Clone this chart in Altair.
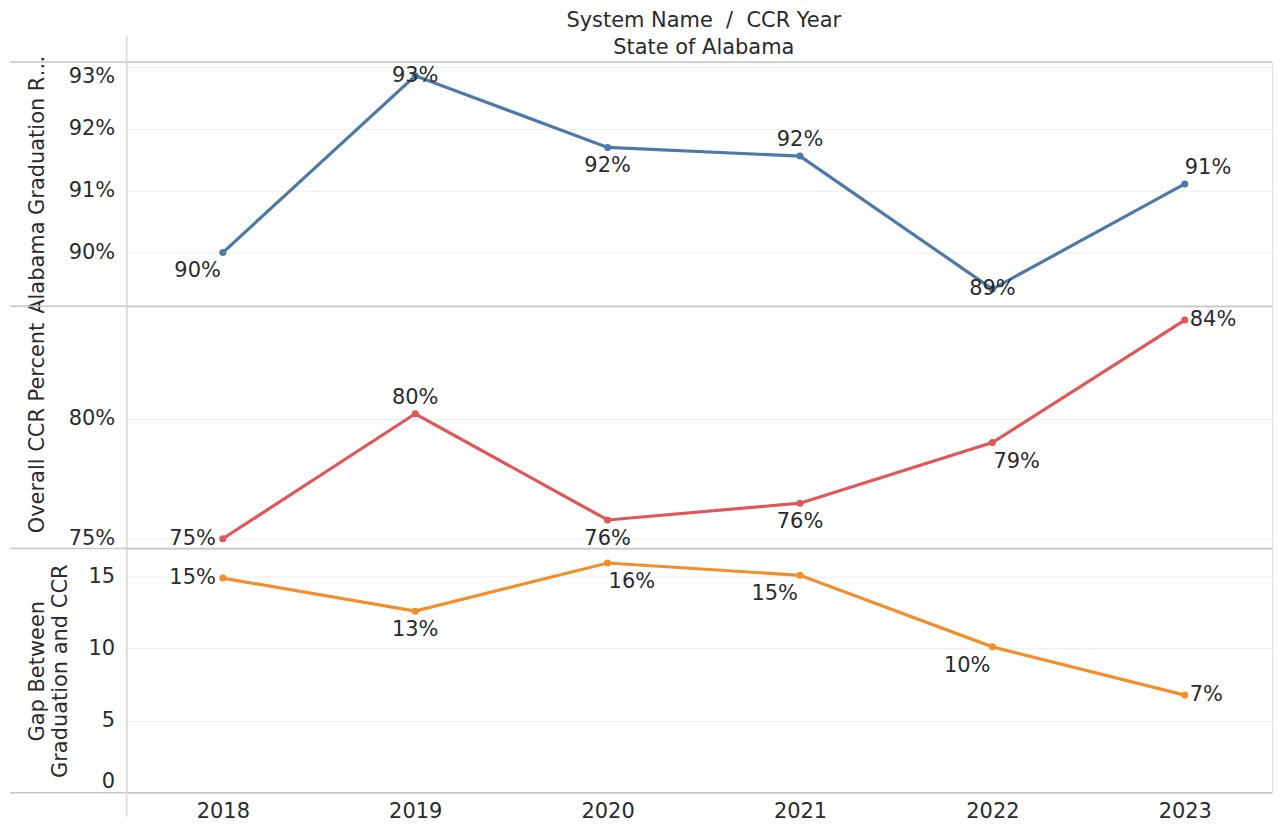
import altair as alt
import pandas as pd

# ---------------- data ----------------
YEARS = ["2018", "2019", "2020", "2021", "2022", "2023"]
GRAD_RATE = [90.0, 92.86, 91.70, 91.56, 89.41, 91.11]      # Alabama Graduation Rate (%)
CCR_PERCENT = [75.0, 80.2, 75.78, 76.48, 79.0, 84.1]       # Overall CCR Percent (%)
GAP = [14.86, 12.57, 15.9, 15.05, 10.1, 6.76]              # Gap Between Graduation and CCR

HEADER_FIELDS = "System Name\u00a0 /\u00a0 CCR Year"
HEADER_VALUE = "State of Alabama"

GRAD_TITLE = "Alabama Graduation Rate"
CCR_TITLE = "Overall CCR Percent"
GAP_TITLE = ["Gap Between", "Graduation and CCR"]

GRAD_TICKS = [90, 91, 92, 93]
CCR_TICKS = [75, 80]
GAP_TICKS = [0, 5, 10, 15]

# ---------------- style ----------------
FONT = "DejaVu Sans"
FS = 21
TEXT = "#2b2b2b"
BLUE, RED, ORANGE = "#4e79a7", "#e15759", "#f28e2b"
SEP = "#c6c6c6"
VSEP = "#d9d9d9"
GRID = "#eeeeee"
W = 1149
H1, H2, H3 = 245, 243, 245
LEFT = 117
X_PADDING, X_ALIGN = 0.4767, 0.5245   # pane is clipped on the right in the original

PLACEMENTS = {
    "a": dict(align="center", baseline="bottom", dx=0, dy=-6),
    "b": dict(align="center", baseline="top", dx=0, dy=8),
    "bl": dict(align="right", baseline="top", dx=-2, dy=8),
    "br": dict(align="left", baseline="top", dx=1, dy=8),
    "ar": dict(align="left", baseline="bottom", dx=0, dy=-6),
    "l": dict(align="right", baseline="middle", dx=-7, dy=0),
    "r": dict(align="left", baseline="middle", dx=5, dy=0),
    "c": dict(align="center", baseline="middle", dx=0, dy=0),
}
GRAD_LABELS = {"2018": "bl", "2019": "c", "2020": "b", "2021": "a", "2022": "c", "2023": "ar"}
CCR_LABELS = {"2018": "l", "2019": "a", "2020": "b", "2021": "b", "2022": "br", "2023": "r"}
GAP_LABELS = {"2018": "l", "2019": "b", "2020": "br", "2021": "bl", "2022": "bl", "2023": "r"}

one = pd.DataFrame({"k": [0]})


def rule(color, width, **enc):
    return alt.Chart(one).mark_rule(color=color, strokeWidth=width).encode(
        **{k: alt.value(v) for k, v in enc.items()}
    )


def panel(values, color, title, ticks, domain, label_pos, height, pct,
          offset_test=None, offset_val=0, title_limit=None, top=False, bottom=False):
    df = pd.DataFrame({"year": YEARS, "value": values})
    if bottom:
        xaxis = alt.Axis(title=None, labelAngle=0, ticks=False, domain=False, grid=False,
                         labelPadding=8, labelFontSize=FS, labelColor=TEXT, labelFont=FONT)
    else:
        xaxis = None
    yaxis_kw = dict(
        values=ticks, title=title, ticks=False, domain=False, grid=True,
        gridColor=GRID, gridWidth=1, labelPadding=12, labelFontSize=FS,
        labelColor=TEXT, labelFont=FONT, titleFont=FONT, titleFontSize=FS,
        titleColor=TEXT, titleFontWeight="normal", titleAngle=270,
        titleBaseline="alphabetic", titleX=-83, titleLineHeight=23,
    )
    if title_limit:
        yaxis_kw["titleLimit"] = title_limit
    if pct:
        yaxis_kw["labelExpr"] = "datum.value + '%'"
    else:
        yaxis_kw["format"] = "d"
    if offset_test is not None:
        yaxis_kw["labelOffset"] = {"condition": {"test": offset_test, "value": offset_val}, "value": 0}
    base = alt.Chart(df).encode(
        x=alt.X("year:O", sort=YEARS,
                scale=alt.Scale(type="point", padding=X_PADDING, align=X_ALIGN), axis=xaxis),
        y=alt.Y("value:Q", scale=alt.Scale(domain=domain, nice=False, zero=False),
                axis=alt.Axis(**yaxis_kw)),
    ).transform_calculate(label="format(datum.value, '.0f') + '%'")

    layers = []
    # separator lines
    layers.append(rule(SEP, 1.5, x=-LEFT, x2=W, y=0))
    if bottom:
        layers.append(rule(SEP, 1.5, x=-LEFT, x2=W, y=height))
    layers.append(rule(VSEP, 1.5, x=0, y=(-27 if top else 0), y2=(height + 24 if bottom else height)))

    layers.append(base.mark_line(color=color, strokeWidth=3.2))
    layers.append(base.mark_circle(color=color, size=50, opacity=1))
    for code in sorted(set(label_pos.values())):
        yrs = [y for y in YEARS if label_pos[y] == code]
        p = PLACEMENTS[code]
        layers.append(
            base.mark_text(font=FONT, fontSize=FS, color=TEXT, align=p["align"],
                           baseline=p["baseline"], dx=p["dx"], dy=p["dy"])
            .encode(text="label:N")
            .transform_filter(alt.FieldOneOfPredicate(field="year", oneOf=yrs))
        )
    if top:
        for txt, yy in ((HEADER_FIELDS, -41), (HEADER_VALUE, -14)):
            layers.append(
                alt.Chart(pd.DataFrame({"t": [txt]})).mark_text(
                    font=FONT, fontSize=FS, color=TEXT, align="center", baseline="middle"
                ).encode(text="t:N", x=alt.value(579), y=alt.value(yy))
            )
    return alt.layer(*layers).properties(width=W, height=height)


p1 = panel(GRAD_RATE, BLUE, GRAD_TITLE, GRAD_TICKS, [89.13, 93.08], GRAD_LABELS, H1, True,
           offset_test="datum.value === 93", offset_val=9, title_limit=262, top=True)
p2 = panel(CCR_PERCENT, RED, CCR_TITLE, CCR_TICKS, [74.59, 84.67], CCR_LABELS, H2, True)
p3 = panel(GAP, ORANGE, GAP_TITLE, GAP_TICKS, [0, 16.9], GAP_LABELS, H3, False,
           offset_test="datum.value === 0", offset_val=-11, bottom=True)

chart = (
    alt.vconcat(p1, p2, p3, spacing=0, bounds="flush")
    .properties(padding=0)
    .configure_view(stroke=None)
    .configure(font=FONT)
)

chart.save("out.html", embed_options={"renderer": "svg", "actions": False})
